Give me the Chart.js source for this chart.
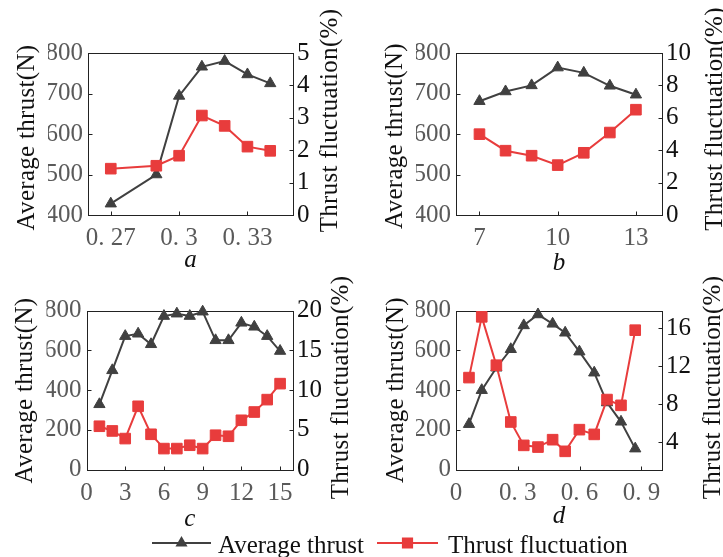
<!DOCTYPE html>
<html><head><meta charset="utf-8">
<script src="https://cdn.jsdelivr.net/npm/chart.js@4"></script>
<style>
html,body{margin:0;padding:0;background:#fff;}
#wrap{position:relative;width:723px;height:557px;overflow:hidden;background:#fff;}
canvas{position:absolute;left:0;top:0;}
</style></head><body>
<div id="wrap">
<canvas id="ca" width="723" height="557"></canvas>
<canvas id="cb" width="723" height="557"></canvas>
<canvas id="cc" width="723" height="557"></canvas>
<canvas id="cd" width="723" height="557"></canvas>
</div>
<script>
// ---- data ----
// panel a
const aX = [0.27, 0.29, 0.30, 0.31, 0.32, 0.33, 0.34];
const aThrust = [428, 500, 694, 766, 780, 747, 725];
const aFluct = [1.43, 1.52, 1.83, 3.07, 2.75, 2.11, 1.98];
const aXTicks = [0.27, 0.30, 0.33];
const aXLabels = ['0. 27', '0. 3', '0. 33'];
const aLeftTicks = [400, 500, 600, 700, 800];
const aRightTicks = [0, 1, 2, 3, 4, 5];
// panel b
const bX = [7, 8, 9, 10, 11, 12, 13];
const bThrust = [681, 705, 720, 764, 751, 719, 697];
const bFluct = [4.99, 3.97, 3.66, 3.08, 3.84, 5.09, 6.5];
const bXTicks = [7, 10, 13];
const bXLabels = ['7', '10', '13'];
const bLeftTicks = [400, 500, 600, 700, 800];
const bRightTicks = [0, 2, 4, 6, 8, 10];
// panel c
const cX = [1, 2, 3, 4, 5, 6, 7, 8, 9, 10, 11, 12, 13, 14, 15];
const cThrust = [328, 499, 671, 683, 630, 772, 784, 772, 794, 650, 650, 738, 718, 671, 596];
const cFluct = [5.44, 4.85, 3.89, 7.95, 4.43, 2.63, 2.63, 3.05, 2.63, 4.31, 4.18, 6.19, 7.23, 8.79, 10.8];
const cXTicks = [0, 3, 6, 9, 12, 15];
const cXLabels = ['0', '3', '6', '9', '12', '15'];
const cLeftTicks = [0, 200, 400, 600, 800];
const cRightTicks = [0, 5, 10, 15, 20];
// panel d
const dX = [0.063, 0.125, 0.196, 0.266, 0.329, 0.398, 0.469, 0.53, 0.599, 0.671, 0.733, 0.801, 0.87];
const dThrust = [228, 399, 512, 605, 725, 780, 733, 688, 593, 487, 337, 240, 105];
const dFluct = [10.81, 17.23, 12.12, 6.12, 3.65, 3.47, 4.25, 3.02, 5.31, 4.81, 8.49, 7.88, 15.82];
const dXTicks = [0, 0.3, 0.6, 0.9];
const dXLabels = ['0', '0. 3', '0. 6', '0. 9'];
const dLeftTicks = [0, 200, 400, 600, 800];
const dRightTicks = [4, 8, 12, 16];

const seriesNames = ['Average thrust', 'Thrust fluctuation'];
const leftTitle = 'Average thrust(N)';
const rightTitle = 'Thrust fluctuation(%)';
const panelLetters = ['a', 'b', 'c', 'd'];

// ---- styling ----
const FONT = "'Liberation Serif', 'Times New Roman', serif";
const GRAY = '#404040';
const RED = '#e83c3c';
const TICKGRAY = '#5a5a5a';
const W = 723, H = 557, AX = 40;

function vText(ctx, text, x, y) {
  ctx.save();
  ctx.translate(x, y);
  ctx.rotate(-Math.PI / 2);
  ctx.textAlign = 'center';
  ctx.textBaseline = 'alphabetic';
  ctx.fillText(text, 0, 0);
  ctx.restore();
}

function legendPlugin() {
  return {
    id: 'legendDraw',
    afterDraw(chart) {
      const ctx = chart.ctx;
      ctx.save();
      const y = 543;
      const items = [
        {x0: 152, x1: 211, color: GRAY, style: 'triangle', r: 5, tx: 218, text: seriesNames[0]},
        {x0: 377, x1: 438, color: RED, style: 'rect', r: 6.5, tx: 448, text: seriesNames[1]}
      ];
      items.forEach(it => {
        ctx.strokeStyle = it.color; ctx.lineWidth = 2;
        ctx.beginPath(); ctx.moveTo(it.x0, y); ctx.lineTo(it.x1, y); ctx.stroke();
        ctx.fillStyle = it.color;
        Chart.helpers.drawPoint(ctx, {pointStyle: it.style, radius: it.r, borderWidth: 1, rotation: 0}, (it.x0 + it.x1) / 2, y);
        ctx.fill();
        ctx.fillStyle = '#111';
        ctx.font = '25px ' + FONT;
        ctx.textAlign = 'left'; ctx.textBaseline = 'alphabetic';
        ctx.fillText(it.text, it.tx, 553);
      });
      ctx.restore();
    }
  };
}

function makePanel(id, p) {
  const rect = p.rect;
  const deco = {
    id: 'deco_' + id,
    beforeDatasetsDraw(chart) {
      const ctx = chart.ctx, ca = chart.chartArea;
      ctx.save();
      ctx.strokeStyle = '#222'; ctx.lineWidth = 1;
      const l = Math.round(ca.left) + 0.5, t = Math.round(ca.top) + 0.5;
      const r = Math.round(ca.right) + 0.5, b = Math.round(ca.bottom) + 0.5;
      ctx.strokeRect(l, t, r - l, b - t);
      ctx.beginPath();
      chart.scales.x.ticks.forEach(tk => {
        const px = Math.round(chart.scales.x.getPixelForValue(tk.value)) + 0.5;
        ctx.moveTo(px, b); ctx.lineTo(px, b - 4);
      });
      chart.scales.yL.ticks.forEach(tk => {
        const py = Math.round(chart.scales.yL.getPixelForValue(tk.value)) + 0.5;
        ctx.moveTo(l, py); ctx.lineTo(l + 4, py);
      });
      chart.scales.yR.ticks.forEach(tk => {
        const py = Math.round(chart.scales.yR.getPixelForValue(tk.value)) + 0.5;
        ctx.moveTo(r, py); ctx.lineTo(r - 4, py);
      });
      ctx.stroke();
      ctx.restore();
    },
    afterDraw(chart) {
      const ctx = chart.ctx;
      ctx.save();
      ctx.fillStyle = '#111';
      ctx.font = '25px ' + FONT;
      try { ctx.letterSpacing = '0.3px'; } catch (e) {}
      vText(ctx, leftTitle, p.lt[0], p.lt[1]);
      vText(ctx, rightTitle, p.rt[0], p.rt[1]);
      try { ctx.letterSpacing = '0px'; } catch (e) {}
      ctx.font = 'italic 25px ' + FONT;
      ctx.textAlign = 'center'; ctx.textBaseline = 'alphabetic';
      ctx.fillText(p.letter, (chart.chartArea.left + chart.chartArea.right) / 2, p.letterY);
      ctx.restore();
    }
  };
  const plugins = [deco];
  if (p.legend) plugins.push(legendPlugin());
  const tickFont = {family: FONT, size: 25};
  return new Chart(document.getElementById(id), {
    type: 'line',
    data: {
      datasets: [
        {label: seriesNames[0], data: p.x.map((v, i) => ({x: v, y: p.thrust[i]})), yAxisID: 'yL',
         borderColor: GRAY, backgroundColor: GRAY, borderWidth: 2, pointStyle: 'triangle',
         pointRadius: 6.5, pointBorderWidth: 1, order: 2, clip: false, tension: 0},
        {label: seriesNames[1], data: p.x.map((v, i) => ({x: v, y: p.fluct[i]})), yAxisID: 'yR',
         borderColor: RED, backgroundColor: RED, borderWidth: 2, pointStyle: 'rect',
         pointRadius: 7.5, pointBorderWidth: 1, order: 1, clip: false, tension: 0}
      ]
    },
    options: {
      responsive: false, animation: false, devicePixelRatio: 1,
      layout: {padding: {left: rect.l - AX, right: W - rect.r - AX, top: rect.t, bottom: H - rect.b - AX}},
      plugins: {legend: {display: false}, tooltip: {enabled: false}},
      scales: {
        x: {type: 'linear', position: 'bottom', min: p.xr[0], max: p.xr[1],
            afterBuildTicks: s => { s.ticks = p.xTicks.map(v => ({value: v})); },
            afterFit: s => { s.height = AX; },
            grid: {display: false, drawTicks: false}, border: {display: false},
            ticks: {padding: 8.5, color: TICKGRAY, font: tickFont, maxRotation: 0, autoSkip: false,
                    callback: v => p.xLabels[p.xTicks.indexOf(v)] ?? ''}},
        yL: {type: 'linear', position: 'left', min: p.yl[0], max: p.yl[1],
            afterBuildTicks: s => { s.ticks = p.lTicks.map(v => ({value: v})); },
            afterFit: s => { s.width = AX; },
            grid: {display: false, drawTicks: false}, border: {display: false},
            ticks: {padding: 5, color: TICKGRAY, font: tickFont, autoSkip: false, callback: v => String(v)}},
        yR: {type: 'linear', position: 'right', min: p.yr[0], max: p.yr[1],
            afterBuildTicks: s => { s.ticks = p.rTicks.map(v => ({value: v})); },
            afterFit: s => { s.width = AX; },
            grid: {display: false, drawTicks: false}, border: {display: false},
            ticks: {padding: 4, color: '#111', font: tickFont, autoSkip: false, callback: v => String(v)}}
      }
    },
    plugins: plugins
  });
}

makePanel('ca', {x: aX, thrust: aThrust, fluct: aFluct, xTicks: aXTicks, xLabels: aXLabels,
  lTicks: aLeftTicks, rTicks: aRightTicks, xr: [0.26, 0.35], yl: [400, 800], yr: [0, 5],
  rect: {l: 88, r: 293, t: 53, b: 215}, lt: [33.5, 137.5], rt: [337, 120.5], letter: panelLetters[0], letterY: 267});
makePanel('cb', {x: bX, thrust: bThrust, fluct: bFluct, xTicks: bXTicks, xLabels: bXLabels,
  lTicks: bLeftTicks, rTicks: bRightTicks, xr: [6.1, 14], yl: [400, 800], yr: [0, 10],
  rect: {l: 456, r: 662, t: 53, b: 215}, lt: [402, 136], rt: [722, 119], letter: panelLetters[1], letterY: 270});
makePanel('cc', {x: cX, thrust: cThrust, fluct: cFluct, xTicks: cXTicks, xLabels: cXLabels,
  lTicks: cLeftTicks, rTicks: cRightTicks, xr: [0, 16], yl: [0, 800], yr: [0, 20],
  rect: {l: 86.5, r: 293, t: 310.5, b: 469.5}, lt: [32, 390.5], rt: [348, 387.5], letter: panelLetters[2], letterY: 526});
makePanel('cd', {x: dX, thrust: dThrust, fluct: dFluct, xTicks: dXTicks, xLabels: dXLabels,
  lTicks: dLeftTicks, rTicks: dRightTicks, xr: [0, 1.0], yl: [0, 800], yr: [1.1, 17.9],
  rect: {l: 456, r: 662, t: 310.5, b: 469.5}, lt: [403, 390], rt: [720, 387.5], letter: panelLetters[3], letterY: 523, legend: true});
</script>
</body></html>
